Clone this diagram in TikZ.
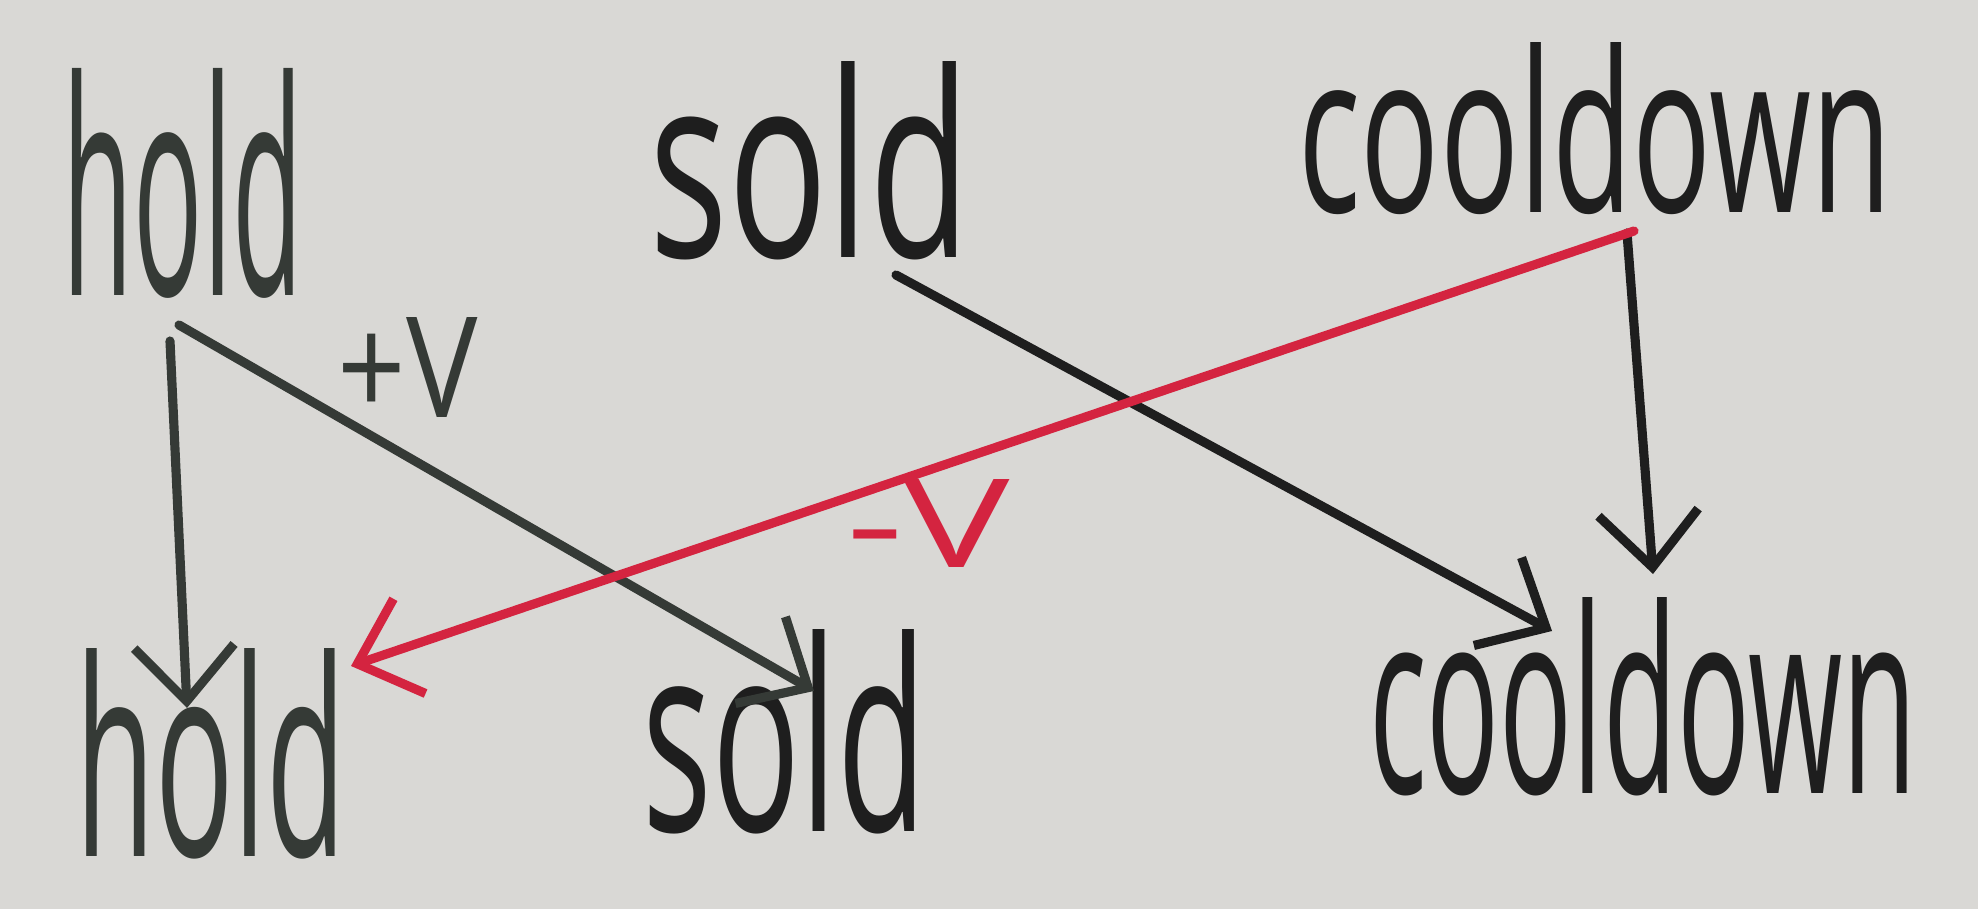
\documentclass[tikz,border=0pt]{standalone}
\usepackage{fontspec}
\setmainfont{Open Sans}
\usepackage{graphicx}
\usetikzlibrary{arrows.meta,calc}
\definecolor{paper}{HTML}{D9D8D5}
\definecolor{ink}{HTML}{1E1E1E}
\definecolor{inkg}{HTML}{353A36}
\definecolor{redink}{HTML}{D42440}
\tikzset{
  word/.style={inner sep=0pt, text=ink},
  arr/.style={draw=ink, line width=2.6pt, line cap=round, line join=round, -{Straight Barb[length=5.5mm,width=10mm,line width=2.6pt]}},
  redarr/.style={arr, draw=redink},
  lbl/.style={inner sep=0pt}
}
\begin{document}
\begin{tikzpicture}
\useasboundingbox (0,0) rectangle (19.78,9.09);
\fill[paper] (0,0) rectangle (19.78,9.09);
% top row
\node[word, text=inkg] (h1) at (1.83,7.26) {\resizebox{2.40cm}{2.27cm}{hold}};
\node[word] (s1) at (8.10,7.48) {\resizebox{3.21cm}{1.96cm}{sold}};
\node[word] (c1) at (15.95,7.80) {\resizebox{5.93cm}{1.70cm}{cooldown}};
% bottom row
\node[word, text=inkg] (h2) at (2.11,1.55) {\resizebox{2.71cm}{2.08cm}{hold}};
\node[word] (s2) at (7.85,1.77) {\resizebox{2.84cm}{2.02cm}{sold}};
\node[word] (c2) at (16.43,2.12) {\resizebox{5.48cm}{1.96cm}{cooldown}};
% connectors
\draw[arr, draw=inkg] ($(h1)+(-0.13,-1.58)$) -- ($(h2)+(-0.24,0.46)$);
\draw[arr, draw=inkg] ($(h1)+(-0.04,-1.42)$) -- node[lbl, pos=0.36, above, yshift=0.35cm, text=inkg] (plusv) {\resizebox{1.40cm}{1.00cm}{+V}} ($(s2)+(0.29,0.41)$);
\draw[arr] ($(s1)+(0.86,-1.14)$) -- ($(c2)+(-0.91,0.66)$);
\draw[arr] ($(c1)+(0.32,-1.04)$) -- ($(c2)+(0.10,1.23)$);
\draw[redarr] ($(c1)+(0.39,-1.02)$) -- node[lbl, pos=0.55, below, yshift=-0.05cm, text=redink] (minusv) {\resizebox{1.64cm}{0.88cm}{-V}} ($(h2)+(1.40,0.88)$);
\end{tikzpicture}
\end{document}
